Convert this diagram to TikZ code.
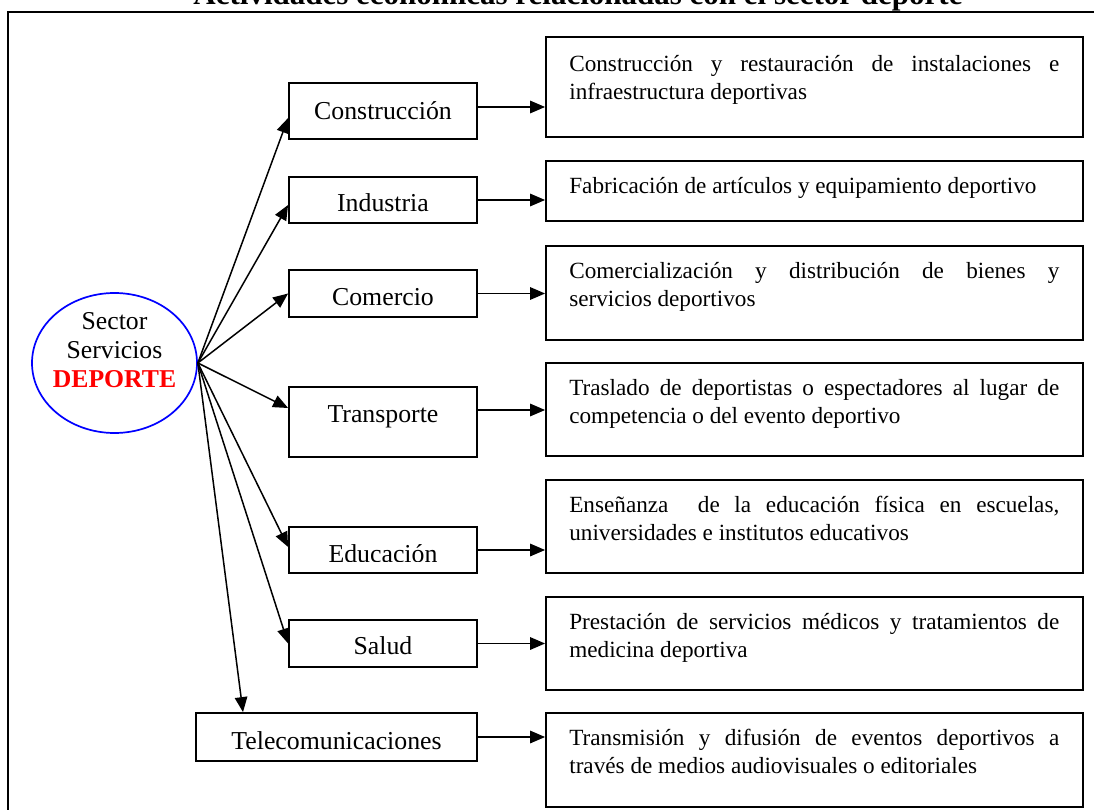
\documentclass[tikz,border=0pt]{standalone}
\usepackage{fontspec}
\setmainfont{Liberation Serif}
\usetikzlibrary{arrows.meta,shapes.geometric,calc}
\begin{document}
\begin{tikzpicture}[x=1pt,y=-1pt,
  box/.style={draw, line width=1.8pt, inner sep=0pt},
  arr/.style={line width=1.5pt, -{Triangle[length=15pt,width=12.5pt]}},
  mid/.style={font=\fontsize{25.8}{29}\selectfont, anchor=base, inner sep=0pt},
  ell/.style={font=\fontsize{25.7}{29}\selectfont, anchor=base, inner sep=0pt},
  desc/.style={font=\fontsize{23.2}{28.2}\selectfont, anchor=base west, inner sep=0pt, text width=490pt, align=justify},
]
\useasboundingbox (0,0) rectangle (1094,810);
\fill[white] (0,0) rectangle (1094,810);
\node[font=\bfseries\fontsize{31}{35}\selectfont, anchor=base, inner sep=0pt] (title) at (578,5) {Actividades económicas relacionadas con el sector deporte};
\draw[line width=2pt] (8,12.5) rectangle (1120,840);

% hub
\node[draw=blue, line width=1.7pt, ellipse, minimum width=165pt, minimum height=140pt, inner sep=0pt] (hub) at (114.5,363) {};
\node[ell] (hub1) at (114.5,329) {Sector};
\node[ell] (hub2) at (114.5,358) {Servicios};
\node[ell] (hub3) at (114.5,387) {\textcolor{red}{\bfseries DEPORTE}};

% middle boxes
\node[box, minimum width=188pt, minimum height=56pt] (m1) at (383,111) {};
\node[box, minimum width=188pt, minimum height=46pt] (m2) at (383,200) {};
\node[box, minimum width=188pt, minimum height=47pt] (m3) at (383,293.5) {};
\node[box, minimum width=188pt, minimum height=70pt] (m4) at (383,422) {};
\node[box, minimum width=188pt, minimum height=46pt] (m5) at (383,550) {};
\node[box, minimum width=188pt, minimum height=47pt] (m6) at (383,643.5) {};
\node[box, minimum width=281pt, minimum height=48pt] (m7) at (336.5,737) {};

\begin{scope}\clip (m1.north west) rectangle ([yshift=12pt]m1.south east);
\node[mid] (t1) at ($(m1.north)+(0,37)$) {Construcción};\end{scope}
\begin{scope}\clip (m2.north west) rectangle ([yshift=12pt]m2.south east);
\node[mid] (t2) at ($(m2.north)+(0,35)$) {Industria};\end{scope}
\begin{scope}\clip (m3.north west) rectangle ([yshift=12pt]m3.south east);
\node[mid] (t3) at ($(m3.north)+(0,36)$) {Comercio};\end{scope}
\begin{scope}\clip (m4.north west) rectangle ([yshift=12pt]m4.south east);
\node[mid] (t4) at ($(m4.north)+(0,36)$) {Transporte};\end{scope}
\begin{scope}\clip (m5.north west) rectangle ([yshift=12pt]m5.south east);
\node[mid] (t5) at ($(m5.north)+(0,36)$) {Educación};\end{scope}
\begin{scope}\clip (m6.north west) rectangle ([yshift=12pt]m6.south east);
\node[mid] (t6) at ($(m6.north)+(0,35)$) {Salud};\end{scope}
\begin{scope}\clip (m7.north west) rectangle ([yshift=12pt]m7.south east);
\node[mid] (t7) at ($(m7.north)+(0,37)$) {Telecomunicaciones};\end{scope}

% right boxes
\node[box, minimum width=537pt, minimum height=100pt] (r1) at (814.5,87) {};
\node[box, minimum width=537pt, minimum height=60pt] (r2) at (814.5,191) {};
\node[box, minimum width=537pt, minimum height=94pt] (r3) at (814.5,293) {};
\node[box, minimum width=537pt, minimum height=93pt] (r4) at (814.5,409.5) {};
\node[box, minimum width=537pt, minimum height=93pt] (r5) at (814.5,526.5) {};
\node[box, minimum width=537pt, minimum height=93pt] (r6) at (814.5,643.5) {};
\node[box, minimum width=537pt, minimum height=94pt] (r7) at (814.5,760) {};

\node[desc] (d1) at ($(r1.north west)+(24,35)$) {\makebox[490pt][s]{Construcción y restauración de instalaciones e}\\infraestructura deportivas};
\node[desc] (d2) at ($(r2.north west)+(24,33)$) {Fabricación de artículos y equipamiento deportivo};
\node[desc] (d3) at ($(r3.north west)+(24,33)$) {\makebox[490pt][s]{Comercialización y distribución de bienes y}\\servicios deportivos};
\node[desc] (d4) at ($(r4.north west)+(24,33)$) {\makebox[490pt][s]{Traslado de deportistas o espectadores al lugar de}\\competencia o del evento deportivo};
\node[desc] (d5) at ($(r5.north west)+(24,33)$) {\makebox[490pt][s]{Enseñanza\ \ de la educación física en escuelas,}\\universidades e institutos educativos};
\node[desc] (d6) at ($(r6.north west)+(24,33)$) {\makebox[490pt][s]{Prestación de servicios médicos y tratamientos de}\\medicina deportiva};
\node[desc] (d7) at ($(r7.north west)+(24,33)$) {\makebox[490pt][s]{Transmisión y difusión de eventos deportivos a}\\través de medios audiovisuales o editoriales};

% arrows from hub
\draw[arr] (hub.east) -- ([yshift=-7pt]m1.west);
\draw[arr] (hub.east) -- ([yshift=-5pt]m2.west);
\draw[arr] (hub.east) -- (m3.west);
\draw[arr] (hub.east) -- ([yshift=14pt]m4.west);
\draw[arr] (hub.east) -- ([yshift=3pt]m5.west);
\draw[arr] (hub.east) -- (m6.west);
\draw[arr] (hub.east) -- ([xshift=-93.5pt]m7.north);

% arrows to descriptions
\draw[arr] ([yshift=4pt]m1.east) -- ([yshift=4pt]m1.east -| r1.west);
\draw[arr] (m2.east) -- (m2.east -| r2.west);
\draw[arr] (m3.east) -- (m3.east -| r3.west);
\draw[arr] ([yshift=12pt]m4.east) -- ([yshift=12pt]m4.east -| r4.west);
\draw[arr] (m5.east) -- (m5.east -| r5.west);
\draw[arr] (m6.east) -- (m6.east -| r6.west);
\draw[arr] (m7.east) -- (m7.east -| r7.west);
\end{tikzpicture}
\end{document}
